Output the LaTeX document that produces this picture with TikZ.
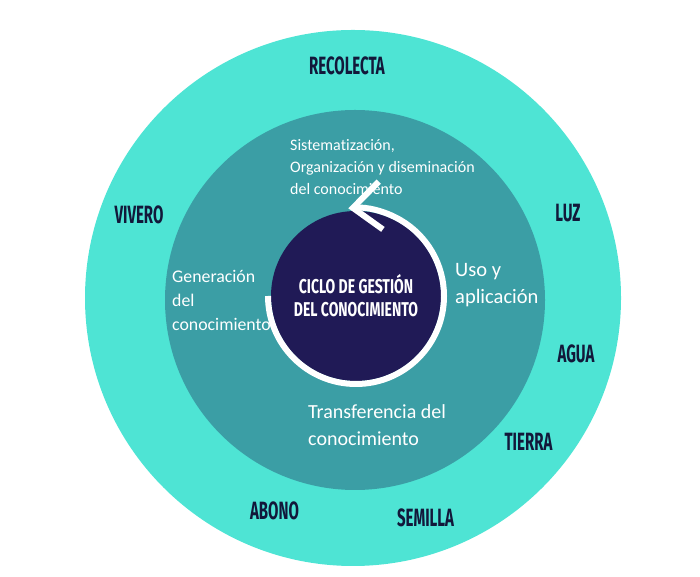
\documentclass[tikz,border=0pt]{standalone}
\usepackage{fontspec}
\setmainfont{Carlito}[Ligatures=NoCommon]
\newfontfamily\headfont{Fira Sans}[FakeStretch=0.6]
\newfontfamily\titlefont{Fira Sans}[FakeStretch=0.7]
\usepackage{xcolor}
\usepackage{tikz}
\usetikzlibrary{calc, arrows.meta, positioning}
\definecolor{aquaring}{RGB}{78,228,212}
\definecolor{tealring}{RGB}{59,158,165}
\definecolor{deepnavy}{RGB}{32,26,86}
\definecolor{inkblue}{RGB}{18,24,58}

\begin{document}
\begin{tikzpicture}[
  x=1pt, y=1pt,
  disc/.style={circle, draw=none, inner sep=0pt},
  seed/.style={font=\headfont\bfseries\fontsize{25}{25}\selectfont, text=inkblue, inner sep=0pt},
  phase/.style={anchor=west, align=left, text=white, inner sep=0pt},
  cycle/.style={line width=6pt, white, -{Straight Barb[length=28pt, width=48pt]}}
]
\useasboundingbox (0,0) rectangle (700,577);
% rings
\node[disc, fill=aquaring, minimum size=536pt] (outer) at (353,279) {};
\node[disc, fill=tealring, minimum size=380pt] (middle) at (355,277) {};
\node[disc, fill=deepnavy, minimum size=170pt, align=center, text=white,
      font=\titlefont\bfseries\fontsize{20}{23}\selectfont] (core) at (356,281)
  {CICLO DE GESTIÓN\\DEL CONOCIMIENTO};
% cycle arrow round the core
\coordinate (start) at ($(core.center)+(180:88)$);
\draw[cycle] (start) arc[start angle=180, end angle=455, radius=88];
% outer labels
\foreach \name/\x/\y/\txt in {rec/347/511/RECOLECTA, viv/139/362/VIVERO,
    luz/568/364/LUZ, agu/576/223.5/AGUA, tie/528.5/135.5/TIERRA,
    abo/274.5/66/ABONO, sem/425.5/59.5/SEMILLA}
  \node[seed] (\name) at (\x,\y) {\txt};
% phases of the cycle
\node[phase, font=\fontsize{16}{22}\selectfont] (sis) at (290,410)
  {Sistematización,\\Organización y diseminación\\del conocimiento};
\node[phase, font=\fontsize{17.8}{24}\selectfont] (gen) at (172,277)
  {Generación\\del\\conocimiento};
\node[phase, font=\fontsize{20.5}{27}\selectfont] (uso) at (455,291.5)
  {Uso y\\aplicación};
\node[phase, font=\fontsize{20}{27}\selectfont] (tra) at (308,151.5)
  {Transferencia del\\conocimiento};
\end{tikzpicture}
\end{document}
